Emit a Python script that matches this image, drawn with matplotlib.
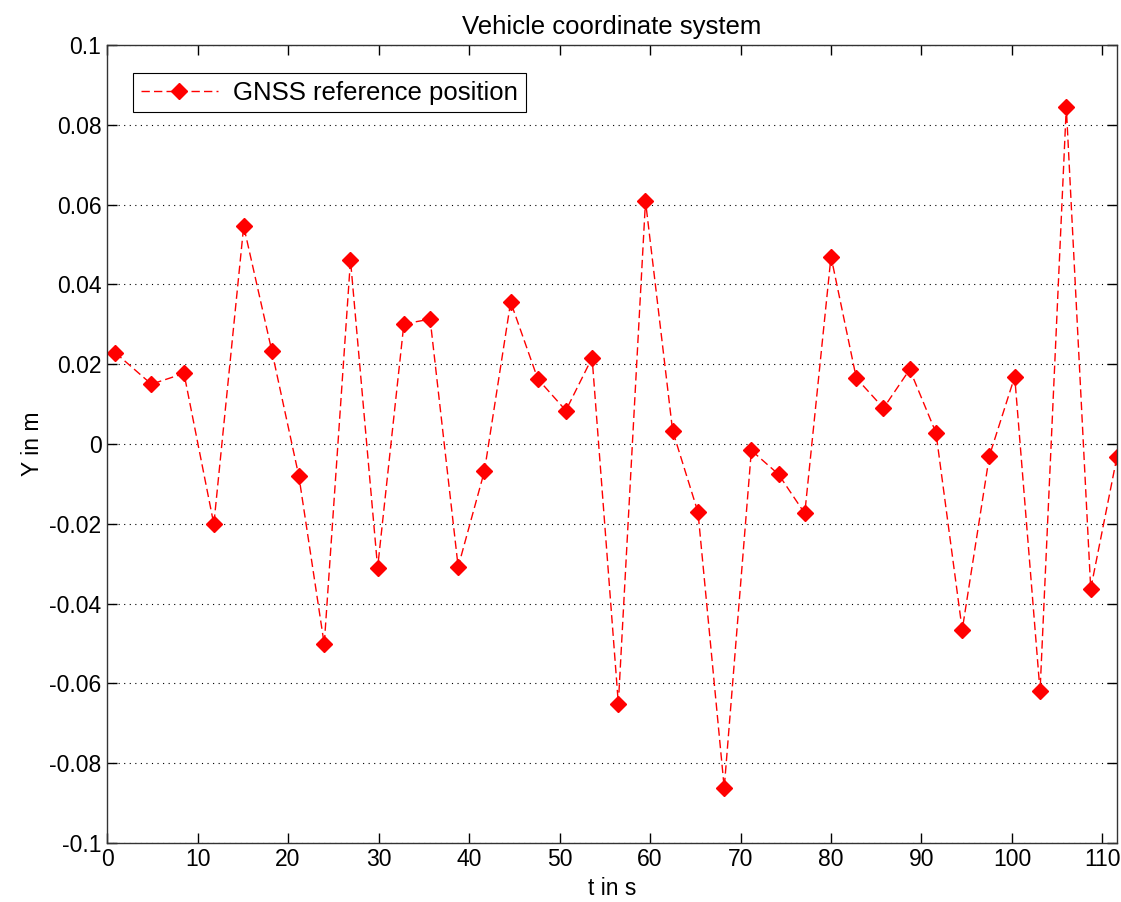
import matplotlib
matplotlib.use("Agg")
import matplotlib.pyplot as plt
import numpy as np

# GNSS reference position
t = [0.9, 4.9, 8.5, 11.8, 15.1, 18.2, 21.2, 24.0, 26.9, 29.9,
     32.8, 35.7, 38.8, 41.7, 44.6, 47.6, 50.7, 53.6, 56.5, 59.5,
     62.5, 65.3, 68.2, 71.2, 74.2, 77.1, 80.0, 82.8, 85.8, 88.7,
     91.6, 94.5, 97.5, 100.3, 103.1, 106.0, 108.7, 111.6]
y = [0.0229, 0.0150, 0.0177, -0.0201, 0.0546, 0.0234, -0.0081, -0.0502, 0.0461, -0.0310,
     0.0301, 0.0313, -0.0308, -0.0068, 0.0356, 0.0163, 0.0084, 0.0216, -0.0651, 0.0609,
     0.0033, -0.0171, -0.0862, -0.0016, -0.0076, -0.0174, 0.0470, 0.0165, 0.0090, 0.0187,
     0.0028, -0.0466, -0.0030, 0.0169, -0.0620, 0.0845, -0.0363, -0.0032]

x_ticks = np.arange(0, 111, 10)
y_ticks = np.arange(-0.1, 0.1001, 0.02)
y_labels = ['-0.1', '-0.08', '-0.06', '-0.04', '-0.02', '0',
            '0.02', '0.04', '0.06', '0.08', '0.1']

plt.rcParams['font.family'] = ['Liberation Sans', 'DejaVu Sans']
plt.rcParams['font.size'] = 16.5

fig = plt.figure(figsize=(11.21, 9.02), dpi=100)
ax = fig.add_axes([0.0955, 0.0655, 0.9009, 0.8845])

ax.plot(t, y, color='red', linestyle='--', dashes=(6, 3), linewidth=1.0,
        marker='D', markersize=8, markerfacecolor='red', markeredgecolor='red',
        label='GNSS reference position')

ax.set_xlim(0, t[-1])
ax.set_ylim(-0.1, 0.1)
ax.set_xticks(x_ticks)
ax.set_yticks(y_ticks)
ax.set_yticklabels(y_labels)

ax.yaxis.grid(True, linestyle=(0, (1, 4)), color='black', linewidth=0.8)
ax.tick_params(direction='in', length=7, width=1, top=True, right=True, pad=4)
for s in ax.spines.values():
    s.set_linewidth(1.0)
    s.set_color('#333333')

ax.set_title('Vehicle coordinate system', fontsize=18.5, pad=8)
ax.set_xlabel('t in s', fontsize=16.5, labelpad=4)
ax.set_ylabel('Y in m', fontsize=16.5, labelpad=4)

leg = ax.legend(loc='upper left', bbox_to_anchor=(0.0257, 0.965), borderaxespad=0,
                fancybox=False, framealpha=1, edgecolor='black', handlelength=3.0,
                fontsize=18.5, borderpad=0.3, handletextpad=0.6)
leg.get_frame().set_linewidth(0.8)

fig.savefig('out.png', dpi=100)
